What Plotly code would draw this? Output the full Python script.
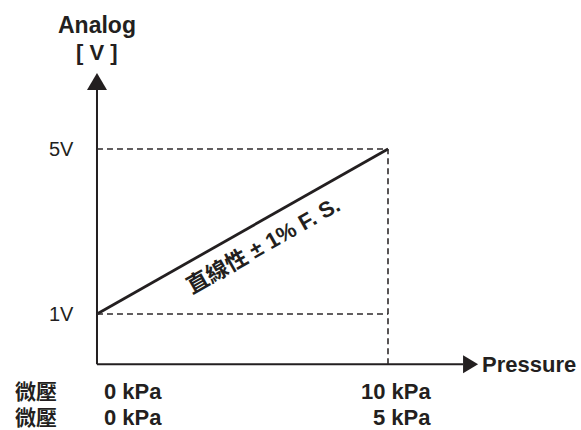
import math
import plotly.graph_objects as go

# ---- data ----
pressure_kpa = [0, 10]
analog_v = [1, 5]
y_tick_vals = [1, 5]
y_tick_labels = ["1V", "5V"]
x_tick_vals = [0, 10]
row1_labels = ["0 kPa", "10 kPa"]
row2_labels = ["0 kPa", "5 kPa"]
row_names = ["微壓", "微壓"]
line_label = "直線性 ± 1% F. S."

# ---- layout constants ----
W, H = 581, 430
XR = [-3.333, 16.632]
YR = [-1.812, 8.612]
INK = "#231f20"
DASH = "#2e2a2b"
LATIN = "Liberation Sans, Arial, sans-serif"
CJK = "Noto Sans CJK TC, Noto Sans CJK SC, sans-serif"

kx = W / (XR[1] - XR[0])   # px per kPa
ky = H / (YR[1] - YR[0])   # px per V
y0px = YR[1] * ky          # pixel row of 0 V


def py(p):
    """pixel row -> data y"""
    return (y0px - p) / ky


axis_y = -9 / ky            # x axis sits a little below 0 V
y_top = 6.43                # top of y axis shaft
x_end = 12.58               # end of x axis shaft
arrow_len_px, arrow_half_px = 17, 10

fig = go.Figure()

fig.add_trace(go.Scatter(x=pressure_kpa, y=analog_v, mode="lines",
                         line=dict(color=INK, width=2.8), hoverinfo="skip",
                         showlegend=False))

shapes = []
# axes
shapes.append(dict(type="line", x0=0, x1=0, y0=axis_y, y1=y_top,
                   line=dict(color=INK, width=2)))
shapes.append(dict(type="line", x0=0, x1=x_end, y0=axis_y, y1=axis_y,
                   line=dict(color=INK, width=2)))
# arrowheads
hw = arrow_half_px / kx
al = arrow_len_px / ky
shapes.append(dict(type="path", fillcolor=INK, line=dict(width=0),
                   path=f"M {-hw} {y_top} L {hw} {y_top} L 0 {y_top + al} Z"))
hh = (arrow_half_px - 1) / ky
alx = (arrow_len_px - 2) / kx
shapes.append(dict(type="path", fillcolor=INK, line=dict(width=0),
                   path=f"M {x_end} {axis_y - hh} L {x_end} {axis_y + hh} L {x_end + alx} {axis_y} Z"))
# dashed guides
xmax = max(pressure_kpa)
for v in y_tick_vals:
    shapes.append(dict(type="line", x0=0, x1=xmax, y0=v, y1=v,
                       line=dict(color=DASH, width=1.6, dash="6px,4px")))
shapes.append(dict(type="line", x0=xmax, x1=xmax, y0=axis_y, y1=max(analog_v),
                   line=dict(color=DASH, width=1.6, dash="6px,4px")))

ann = []
# y tick labels
for v, t in zip(y_tick_vals, y_tick_labels):
    ann.append(dict(x=0, y=v, text=t, xanchor="right", yanchor="middle",
                    xshift=-21, showarrow=False,
                    font=dict(family=LATIN, size=20, color=INK)))
# axis titles
ann.append(dict(x=0, y=py(25), text="Analog", showarrow=False,
                xanchor="center", yanchor="middle",
                font=dict(family=LATIN, size=23, color=INK, weight="bold")))
ann.append(dict(x=0, y=py(52), text="[ V ]", showarrow=False,
                xanchor="center", yanchor="middle",
                font=dict(family=LATIN, size=22, color=INK, weight="bold")))
ann.append(dict(x=x_end + alx, y=axis_y, text="Pressure", showarrow=False,
                xanchor="left", yanchor="middle", xshift=2,
                font=dict(family=LATIN, size=22, color=INK, weight="bold")))
# x tick rows
row_y = [py(391), py(417)]
for ry, labels, name in zip(row_y, [row1_labels, row2_labels], row_names):
    ann.append(dict(x=XR[0], y=ry, text=name, showarrow=False, xanchor="left",
                    yanchor="middle", xshift=13,
                    font=dict(family=f"Liberation Sans, {CJK}", size=21,
                              color=INK, weight="bold")))
    ann.append(dict(x=x_tick_vals[0], y=ry, text=labels[0], showarrow=False,
                    xanchor="left", yanchor="middle", xshift=5,
                    font=dict(family=LATIN, size=22, color=INK, weight="bold")))
    ann.append(dict(x=x_tick_vals[1], y=ry, text=labels[1], showarrow=False,
                    xanchor="right", yanchor="middle", xshift=45,
                    font=dict(family=LATIN, size=22, color=INK, weight="bold")))
# diagonal label
ang = math.degrees(math.atan((analog_v[1] - analog_v[0]) * ky /
                             ((pressure_kpa[1] - pressure_kpa[0]) * kx)))
ann.append(dict(x=5.70, y=py(245), text=line_label, showarrow=False,
                textangle=-ang, xanchor="center", yanchor="middle",
                font=dict(family=f"Liberation Sans, {CJK}", size=22, color=INK,
                          weight="bold")))

fig.update_layout(width=W, height=H, margin=dict(l=0, r=0, t=0, b=0),
                  paper_bgcolor="white", plot_bgcolor="white",
                  xaxis=dict(range=XR, visible=False, fixedrange=True),
                  yaxis=dict(range=YR, visible=False, fixedrange=True),
                  shapes=shapes, annotations=ann, showlegend=False)

fig.write_html("out.html", config={"displayModeBar": False},
               post_script="document.body.style.margin='0px';"
                           "document.body.style.overflow='hidden';")
